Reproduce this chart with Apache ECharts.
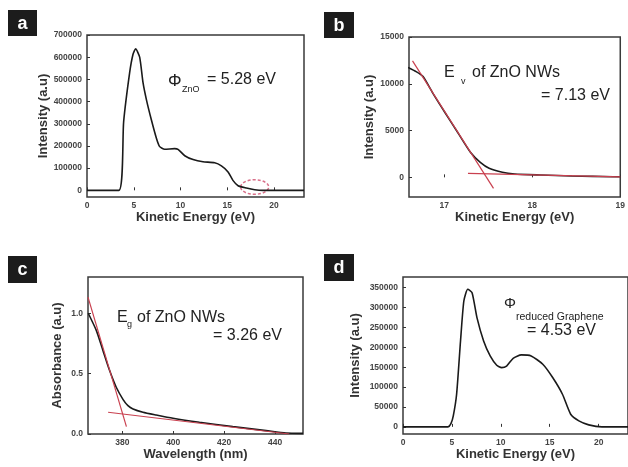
<!DOCTYPE html>
<html>
<head>
<meta charset="utf-8">
<script src="https://cdn.jsdelivr.net/npm/echarts@6/dist/echarts.min.js"></script>
<style>
  html, body { margin: 0; padding: 0; background: #fff; }
  #chart { width: 628px; height: 467px; }
</style>
</head>
<body>
<div id="chart"></div>
<script>
// (a) ZnO cutoff spectrum
const aEnergy = [0, 3.4, 3.92, 4.56, 4.92, 5.2, 5.63, 5.99, 6.35, 6.88, 7.42, 7.77, 8.3, 9.37, 9.73, 10.45, 11.34, 12.4, 13.65, 14.37, 15.08, 15.6, 16.15, 17.04, 17.93, 18.8, 23.2]
const aIntensity = [0, 0, 310000, 530000, 613000, 638000, 600000, 485000, 409000, 318000, 235000, 197000, 185000, 188000, 185000, 156000, 139000, 129000, 124000, 110000, 83000, 45000, 21000, 10600, 3000, 0, 0]
const aTicksX = [0, 5, 10, 15, 20]
const aTicksY = [0, 100000, 200000, 300000, 400000, 500000, 600000, 700000]

// (b) valence band edge
const bEnergy = [16.59, 16.68, 16.76, 16.87, 17.01, 17.15, 17.3, 17.41, 17.51, 17.66, 17.8, 18.09, 18.45, 18.92, 19.0]
const bIntensity = [11740, 11300, 10770, 9000, 6900, 4850, 2650, 1600, 970, 540, 360, 250, 140, 70, 60]
const bFitSteep = [[16.64, 12455], [17.56, -1184]]
const bFitFlat = [[17.27, 430], [19.0, 60]]
const bTicksX = [17, 18, 19]
const bTicksY = [0, 5000, 10000, 15000]

// (c) absorbance
const cWave = [366.6, 369.8, 372.4, 375, 377.6, 380.3, 382.2, 384.2, 388.1, 393.3, 399.9, 410.3, 423.4, 436.5, 444.3, 451]
const cAbs = [1.0, 0.856, 0.69, 0.525, 0.387, 0.285, 0.235, 0.207, 0.18, 0.157, 0.13, 0.097, 0.061, 0.028, 0.008, 0.005]
const cFitSteep = [[366.5, 1.133], [381.6, 0.061]]
const cFitFlat = [[374.4, 0.18], [445.6, 0.0]]
const cTicksX = [380, 400, 420, 440]
const cTicksY = [0, 0.5, 1.0]

// (d) reduced graphene cutoff spectrum
const dEnergy = [0, 4.6, 4.9, 5.14, 5.48, 5.88, 6.22, 6.62, 7.06, 7.56, 8.24, 8.91, 9.58, 10.08, 10.59, 11.26, 12.1, 13.1, 14.29, 15.3, 16.3, 17.14, 17.98, 18.99, 20.34, 23]
const dIntensity = [0, 0, 8000, 27600, 82000, 216000, 316600, 346000, 337500, 274700, 216000, 178400, 155000, 149000, 153000, 172500, 181000, 178400, 157500, 124000, 82000, 31800, 15000, 5000, 0, 0]
const dTicksX = [0, 5, 10, 15, 20]
const dTicksY = [0, 50000, 100000, 150000, 200000, 250000, 300000, 350000]

const FONT = 'Liberation Sans, Arial, sans-serif'
const INK = '#1a1a1a'
const RED = '#c9404f'

const pairs = (xs, ys) => xs.map((x, i) => [x, ys[i]])
const plain = v => String(v)

function xAxisFor (idx, min, max, ticks, name, gap) {
  return {
    type: 'value', gridIndex: idx, min: min, max: max,
    name: name, nameLocation: 'middle', nameGap: gap,
    nameTextStyle: { fontFamily: FONT, fontWeight: 'bold', fontSize: 13, color: '#333' },
    axisLine: { show: false },
    axisTick: { inside: true, length: 3, customValues: ticks, lineStyle: { color: '#333' } },
    axisLabel: { customValues: ticks, margin: 4, formatter: plain, fontFamily: FONT, fontWeight: 'bold', fontSize: 8.5, color: '#444' },
    splitLine: { show: false }
  }
}

function yAxisFor (idx, min, max, ticks, name, gap, fmt) {
  return {
    type: 'value', gridIndex: idx, min: min, max: max,
    name: name, nameLocation: 'middle', nameGap: gap,
    nameTextStyle: { fontFamily: FONT, fontWeight: 'bold', fontSize: 13, color: '#333' },
    axisLine: { show: false },
    axisTick: { inside: true, length: 3, customValues: ticks, lineStyle: { color: '#333' } },
    axisLabel: { customValues: ticks, margin: 5, formatter: fmt || plain, fontFamily: FONT, fontWeight: 'bold', fontSize: 8.5, color: '#444' },
    splitLine: { show: false }
  }
}

function curve (idx, data) {
  return {
    type: 'line', xAxisIndex: idx, yAxisIndex: idx, data: data,
    showSymbol: false, smooth: 0.2, animation: false,
    lineStyle: { color: INK, width: 1.6 }
  }
}

function fit (idx, data) {
  return {
    type: 'line', xAxisIndex: idx, yAxisIndex: idx, data: data,
    showSymbol: false, animation: false,
    lineStyle: { color: RED, width: 1.2 }
  }
}

const frame = { show: true, borderColor: '#3a3a3a', borderWidth: 1.5, backgroundColor: 'transparent' }

const chart = echarts.init(document.getElementById('chart'))
chart.setOption({
  backgroundColor: '#fff',
  animation: false,
  grid: [
    Object.assign({ left: 87, top: 35, width: 217, height: 162 }, frame),
    Object.assign({ left: 409, top: 37, width: 215, height: 160 }, frame),
    Object.assign({ left: 88, top: 277, width: 215, height: 157 }, frame),
    Object.assign({ left: 403, top: 277, width: 227, height: 157 }, frame)
  ],
  xAxis: [
    xAxisFor(0, 0, 23.2, aTicksX, 'Kinetic Energy (eV)', 13),
    xAxisFor(1, 16.6, 19, bTicksX, 'Kinetic Energy (eV)', 14),
    xAxisFor(2, 366.5, 451, cTicksX, 'Wavelength (nm)', 13),
    xAxisFor(3, 0, 23, dTicksX, 'Kinetic Energy (eV)', 13)
  ],
  yAxis: [
    yAxisFor(0, -30000, 700000, aTicksY, 'Intensity (a.u)', 36),
    yAxisFor(1, -2100, 15000, bTicksY, 'Intensity (a.u)', 33),
    yAxisFor(2, 0, 1.3, cTicksY, 'Absorbance (a.u)', 24, v => v.toFixed(1)),
    yAxisFor(3, -18000, 377000, dTicksY, 'Intensity (a.u)', 41)
  ],
  series: [
    curve(0, pairs(aEnergy, aIntensity)),
    curve(1, pairs(bEnergy, bIntensity)),
    fit(1, bFitSteep),
    fit(1, bFitFlat),
    curve(2, pairs(cWave, cAbs)),
    fit(2, cFitSteep),
    fit(2, cFitFlat),
    curve(3, pairs(dEnergy, dIntensity))
  ]
})

// panel tags and annotations
function tag (x, y, w, h, letter) {
  return [
    { type: 'rect', shape: { x: x, y: y, width: w, height: h }, style: { fill: '#1c1c1c' } },
    { type: 'text', style: { x: x + w / 2, y: y + h / 2 + 1, text: letter, fill: '#fff', font: 'bold 18px ' + FONT, textAlign: 'center', textVerticalAlign: 'middle' } }
  ]
}

function label (x, y, text, size) {
  return { type: 'text', style: { x: x, y: y, text: text, fill: '#222', font: size + 'px ' + FONT, textVerticalAlign: 'middle' } }
}

const ring = chart.convertToPixel({ gridIndex: 0 }, [17.93, 15000])

chart.setOption({
  graphic: [].concat(
    tag(8, 10, 29, 26, 'a'),
    tag(324, 12, 30, 26, 'b'),
    tag(8, 256, 29, 27, 'c'),
    tag(324, 254, 30, 27, 'd'),
    [
      label(168, 81, 'Φ', 17),
      label(182, 90, 'ZnO', 9),
      label(207, 80, '= 5.28 eV', 16),

      label(444, 73, 'E', 16),
      label(461, 82, 'v', 9),
      label(472, 73, 'of ZnO NWs', 16),
      label(541, 96, '= 7.13 eV', 16),

      label(117, 318, 'E', 16),
      label(127, 325, 'g', 9),
      label(137, 318, 'of ZnO NWs', 16),
      label(213, 336, '= 3.26 eV', 16),

      label(504, 304, 'Φ', 15),
      label(516, 317, 'reduced Graphene', 10.5),
      label(527, 331, '= 4.53 eV', 16),

      {
        type: 'ellipse',
        shape: { cx: ring[0], cy: ring[1], rx: 14, ry: 7.3 },
        style: { fill: 'none', stroke: '#d9708a', lineWidth: 1.5, lineDash: [3, 2] }
      }
    ]
  )
})
</script>
</body>
</html>
